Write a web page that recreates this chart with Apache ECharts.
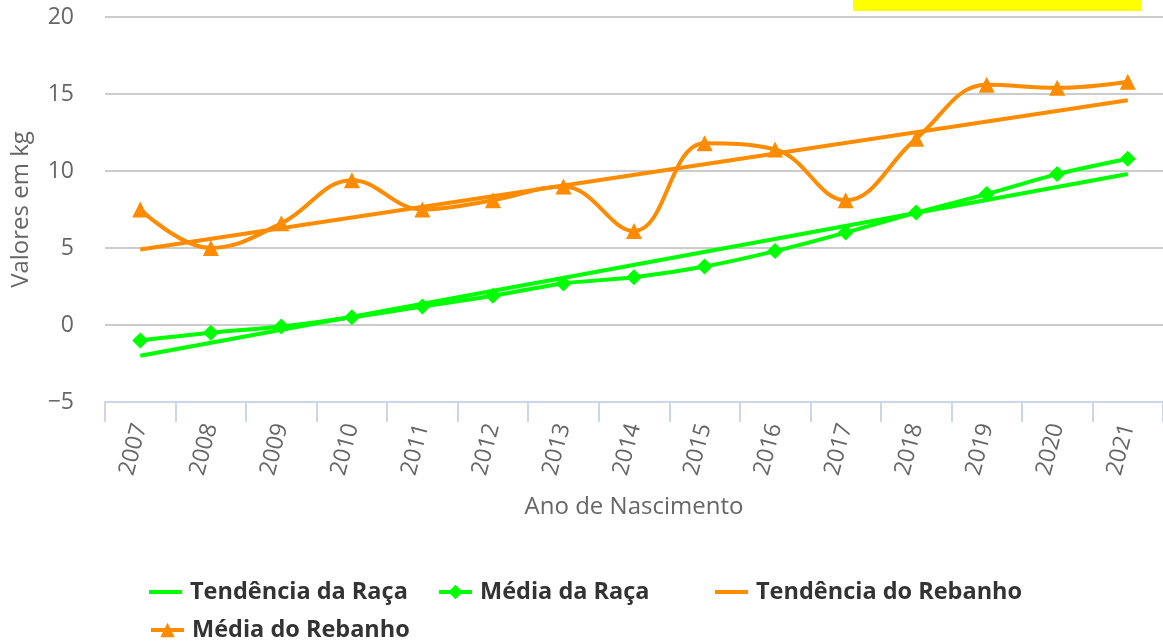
<!DOCTYPE html>
<html>
<head>
<meta charset="utf-8">
<script src="https://cdn.jsdelivr.net/npm/echarts@6/dist/echarts.min.js"></script>
<style>
  html, body { margin: 0; padding: 0; background: #fff; }
  #app { width: 1163px; height: 641px; }
</style>
</head>
<body>
<div id="app"></div>
<script>
const anos = ['2007', '2008', '2009', '2010', '2011', '2012', '2013', '2014',
    '2015', '2016', '2017', '2018', '2019', '2020', '2021'];

// tendencias: so os extremos, a linha reta liga os pontos
const tendenciaRaca = [-2.0, null, null, null, null, null, null, null, null, null, null, null, null, null, 9.8];
const mediaRaca = [-1.0, -0.5, -0.1, 0.5, 1.2, 1.9, 2.7, 3.1, 3.8, 4.8, 6.0, 7.3, 8.5, 9.8, 10.8];
const tendenciaRebanho = [4.9, null, null, null, null, null, null, null, null, null, null, null, null, null, 14.6];
const mediaRebanho = [7.5, 5.0, 6.6, 9.4, 7.5, 8.1, 9.0, 6.1, 11.8, 11.4, 8.1, 12.1, 15.6, 15.4, 15.8];

const VERDE = '#00ff00';
const LARANJA = '#ff8c00';
const fonte = '"Open Sans", "DejaVu Sans", sans-serif';
const iconeLinha = 'path://M0,0L32,0L32,4L0,4Z';

const myChart = echarts.init(document.getElementById('app'));

// uma legenda por item, para acertar a posicao de cada um
function legenda(nome, x, y, icone) {
    const item = { name: nome };
    if (icone) item.icon = icone;
    return {
        left: x,
        top: y,
        itemWidth: 33,
        itemHeight: 18,
        itemGap: 0,
        lineStyle: { width: 4 },
        textStyle: { fontSize: 23.5, fontWeight: 'bold', color: '#333', fontFamily: fonte, padding: [0, 0, 0, 3] },
        data: [item]
    };
}

const option = {
    animation: false,
    textStyle: { fontFamily: fonte },
    graphic: [{
        type: 'rect',
        shape: { x: 853, y: -20, width: 288, height: 31 },
        style: { fill: '#ffff00' }
    }],
    grid: { left: 105, right: 0, top: 17, bottom: 239, outerBoundsMode: 'none', containLabel: false },
    legend: [
        legenda('Tendência da Raça', 144, 575, iconeLinha),
        legenda('Média da Raça', 432, 575),
        legenda('Tendência do Rebanho', 710, 575, iconeLinha),
        legenda('Média do Rebanho', 144, 613)
    ],
    xAxis: {
        type: 'category',
        data: anos,
        boundaryGap: true,
        name: 'Ano de Nascimento',
        nameLocation: 'middle',
        nameGap: 93,
        nameTextStyle: { fontSize: 24, color: '#666' },
        axisLine: { onZero: false, lineStyle: { color: '#ccd6eb', width: 2 } },
        axisTick: { show: true, length: 20, lineStyle: { color: '#ccd6eb', width: 2 } },
        axisLabel: { rotate: 75, fontSize: 23, color: '#666', margin: 22 },
        splitLine: { show: false }
    },
    yAxis: {
        type: 'value',
        min: -5,
        max: 20,
        interval: 5,
        name: 'Valores em kg',
        nameLocation: 'middle',
        nameGap: 72,
        nameTextStyle: { fontSize: 24, color: '#666' },
        axisLine: { show: false },
        axisTick: { show: false },
        axisLabel: {
            fontSize: 23,
            color: '#666',
            margin: 31,
            formatter: v => String(v).replace('-', '\u2212')
        },
        splitLine: { lineStyle: { color: '#cccccc', width: 2 } }
    },
    series: [
        {
            name: 'Tendência da Raça',
            type: 'line',
            data: tendenciaRaca,
            connectNulls: true,
            symbol: 'none',
            lineStyle: { color: VERDE, width: 4 },
            itemStyle: { color: VERDE },
            z: 2
        },
        {
            name: 'Média da Raça',
            type: 'line',
            data: mediaRaca,
            smooth: 0.3,
            symbol: 'diamond',
            symbolSize: 16,
            lineStyle: { color: VERDE, width: 4 },
            itemStyle: { color: VERDE },
            z: 3
        },
        {
            name: 'Tendência do Rebanho',
            type: 'line',
            data: tendenciaRebanho,
            connectNulls: true,
            symbol: 'none',
            lineStyle: { color: LARANJA, width: 4 },
            itemStyle: { color: LARANJA },
            z: 2
        },
        {
            name: 'Média do Rebanho',
            type: 'line',
            data: mediaRebanho,
            smooth: 0.4,
            symbol: 'triangle',
            symbolSize: 16,
            lineStyle: { color: LARANJA, width: 4 },
            itemStyle: { color: LARANJA },
            z: 3
        }
    ]
};

myChart.setOption(option);
</script>
</body>
</html>
